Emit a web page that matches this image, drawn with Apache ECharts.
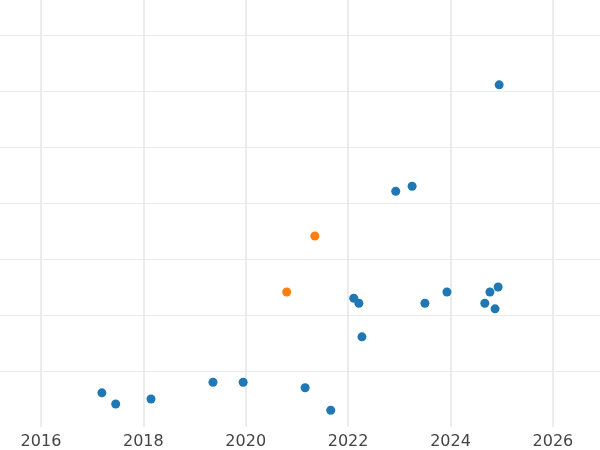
<!DOCTYPE html>
<html>
<head>
<meta charset="utf-8">
<script src="https://cdn.jsdelivr.net/npm/echarts@6/dist/echarts.min.js"></script>
<style>html,body{margin:0;padding:0;}#chart{width:600px;height:450px;}</style>
</head>
<body>
<div id="chart"></div>
<script>
// blue points: [year, value]
var bluePoints = [
	[2017.19, 0.61], [2017.46, 0.41], [2018.15, 0.50], [2019.36, 0.80], [2019.95, 0.80],
	[2021.16, 0.70], [2021.66, 0.30], [2022.11, 2.30], [2022.21, 2.21], [2022.27, 1.61],
	[2022.93, 4.21], [2023.25, 4.30], [2023.50, 2.21], [2023.93, 2.41], [2024.67, 2.21],
	[2024.77, 2.41], [2024.87, 2.11], [2024.93, 2.50], [2024.95, 6.11]
];
// orange points
var orangePoints = [[2020.80, 2.41], [2021.35, 3.41]];

var chart = echarts.init(document.getElementById('chart'));
chart.setOption({
	animation: false,
	grid: {left: 0, right: 0, top: 0, bottom: 23},
	xAxis: {
		type: 'value',
		min: 2015.2,
		max: 2026.92,
		splitNumber: 5,
		axisLine: {show: false},
		axisTick: {show: false},
		axisLabel: {
			showMinLabel: false, showMaxLabel: false,
			color: '#444', fontSize: 16, fontFamily: 'DejaVu Sans', margin: 7,
			formatter: function(v) { return String(v); }
		},
		splitLine: {showMinLine: false, showMaxLine: false, lineStyle: {color: '#e6e6e6', width: 1.5}}
	},
	yAxis: {
		type: 'value',
		min: 0,
		max: 7.625,
		interval: 1,
		axisLine: {show: false},
		axisTick: {show: false},
		axisLabel: {show: false},
		splitLine: {showMinLine: false, showMaxLine: false, lineStyle: {color: '#ebebeb'}}
	},
	series: [
		{type: 'scatter', data: bluePoints, symbolSize: 9, itemStyle: {color: '#1f77b4', opacity: 1}},
		{type: 'scatter', data: orangePoints, symbolSize: 9, itemStyle: {color: '#ff7f0e', opacity: 1}}
	]
});
</script>
</body>
</html>
